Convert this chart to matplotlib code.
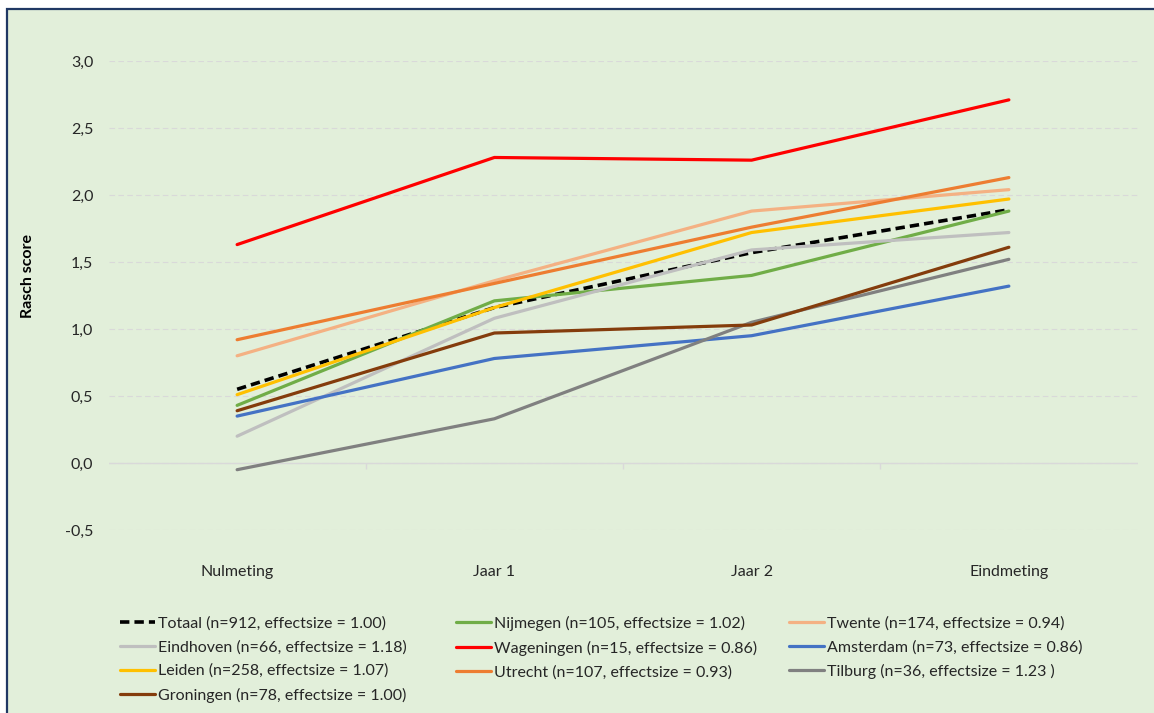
import matplotlib
matplotlib.use('Agg')
import matplotlib.pyplot as plt
from matplotlib.patches import Rectangle

W, H = 1154, 713

categories = ['Nulmeting', 'Jaar 1', 'Jaar 2', 'Eindmeting']
y_ticks = [-0.5, 0.0, 0.5, 1.0, 1.5, 2.0, 2.5, 3.0]

series_names = [
    'Totaal (n=912, effectsize = 1.00)',
    'Nijmegen (n=105, effectsize = 1.02)',
    'Twente (n=174, effectsize = 0.94)',
    'Eindhoven (n=66, effectsize = 1.18)',
    'Wageningen (n=15, effectsize = 0.86)',
    'Amsterdam (n=73, effectsize = 0.86)',
    'Leiden (n=258, effectsize = 1.07)',
    'Utrecht (n=107, effectsize = 0.93)',
    'Tilburg (n=36, effectsize = 1.23 )',
    'Groningen (n=78, effectsize = 1.00)',
]

totaal = [0.55, 1.16, 1.57, 1.89]
nijmegen = [0.43, 1.21, 1.40, 1.88]
twente = [0.80, 1.36, 1.88, 2.04]
eindhoven = [0.20, 1.08, 1.59, 1.72]
wageningen = [1.63, 2.28, 2.26, 2.71]
amsterdam = [0.35, 0.78, 0.95, 1.32]
leiden = [0.51, 1.16, 1.72, 1.97]
utrecht = [0.92, 1.34, 1.76, 2.13]
tilburg = [-0.05, 0.33, 1.05, 1.52]
groningen = [0.39, 0.97, 1.03, 1.61]

series_values = [totaal, nijmegen, twente, eindhoven, wageningen,
                 amsterdam, leiden, utrecht, tilburg, groningen]
colors = ['#000000', '#70AD47', '#F4B183', '#BFBFBF', '#FF0000',
          '#4472C4', '#FFC000', '#ED7D31', '#808080', '#843C0C']

plt.rcParams['font.family'] = ['Lato', 'DejaVu Sans']


def fx(x):
    return x / W


def fy(y):
    return 1 - y / H


fig = plt.figure(figsize=(W / 100, H / 100), dpi=100, facecolor='white')
fig.patches.append(Rectangle((fx(7), fy(H + 20)), fx(W + 20 - 7), (H + 20 - 9) / H,
                             transform=fig.transFigure, facecolor='#E2EFDA',
                             edgecolor='#203864', linewidth=1.6, zorder=-10))

ax = fig.add_axes([fx(108.5), fy(530), fx(1137.5 - 108.5), (530 - 61) / H])
ax.set_facecolor('none')

x = list(range(len(categories)))
lines = []
for name, vals, col in zip(series_names, series_values, colors):
    if name.startswith('Totaal'):
        ln, = ax.plot(x, vals, color=col, lw=2.6, dashes=(2.6, 1.4),
                      solid_capstyle='round', label=name)
    else:
        ln, = ax.plot(x, vals, color=col, lw=2.3, solid_capstyle='round', label=name)
    lines.append(ln)

ax.set_xlim(-0.5, 3.5)
ax.set_ylim(-0.5, 3.0)
ax.set_yticks(y_ticks)
ax.set_yticklabels([f'{v:.1f}'.replace('.', ',') for v in y_ticks])
ax.set_xticks(x)
ax.set_xticklabels(categories)
ax.tick_params(axis='x', length=0, pad=25, labelsize=11.5, colors='#262626')
ax.tick_params(axis='y', length=0, pad=11, labelsize=11.5, colors='#262626')
for s in ax.spines.values():
    s.set_visible(False)
ax.yaxis.grid(True, color='#D9D9D9', lw=0.8, ls=(0, (5, 3)))
ax.set_axisbelow(True)
ax.axhline(0, color='#D9D9D9', lw=1.0, zorder=1)
ax.vlines([0.5, 1.5, 2.5], -0.045, 0, color='#D9D9D9', lw=1.0, zorder=1)

fig.text(fx(28), fy(276), 'Rasch score', rotation=90, ha='center', va='center',
         fontsize=11.5, fontweight='bold', color='#000000')

# legend laid out row by row like the original, one column per legend
col_x = [120, 456, 789]
for c in range(3):
    idx = list(range(c, len(lines), 3))
    leg = fig.legend([lines[i] for i in idx], [series_names[i] for i in idx],
                     loc='upper left', bbox_to_anchor=(fx(col_x[c]), fy(616)),
                     frameon=False, fontsize=11.5, handlelength=2.2,
                     handletextpad=0.2, labelspacing=0.6, borderpad=0,
                     borderaxespad=0)
    for t in leg.get_texts():
        t.set_color('#262626')

fig.savefig('out.png', dpi=100, facecolor='white')
